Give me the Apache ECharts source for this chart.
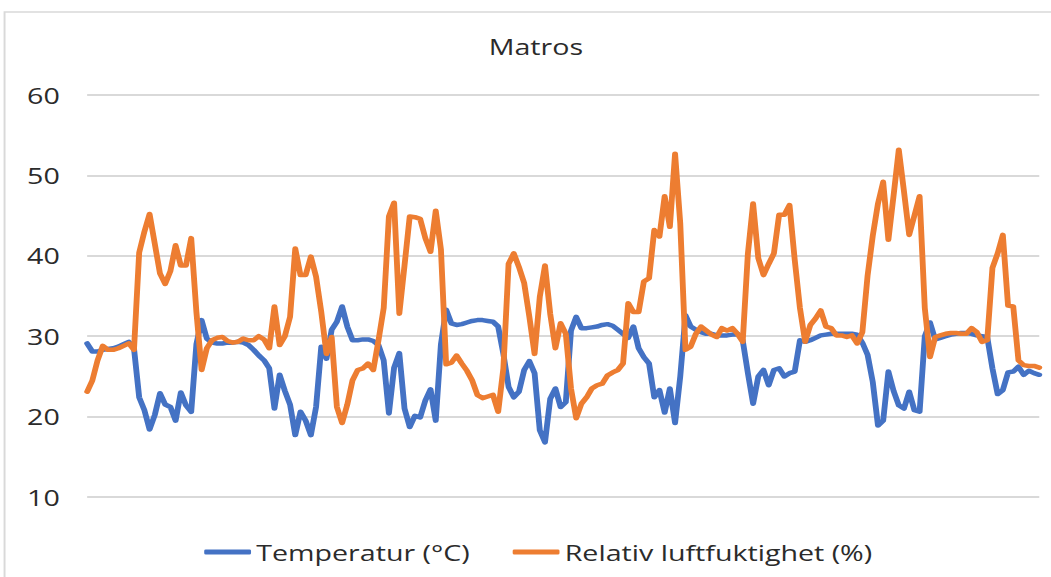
<!DOCTYPE html>
<html>
<head>
<meta charset="utf-8">
<title>Matros</title>
<script src="https://cdn.jsdelivr.net/npm/echarts@6/dist/echarts.min.js"></script>
<style>
  html, body { margin: 0; padding: 0; background: #ffffff; overflow: hidden; }
  /* the chart is laid out narrow and widened horizontally, giving the wide lettering */
  #chart {
    position: absolute; left: 0; top: 0;
    width: 808px; height: 577px;
    transform: scaleX(1.3007);
    transform-origin: 0 0;
  }
</style>
</head>
<body>
<div id="chart"></div>
<script>
const chartTitle = 'Matros';
const seriesNames = ['Temperatur (°C)', 'Relativ luftfuktighet (%)'];

// Temperatur (°C), one value per measurement
const temperatur = [
  29.1, 28.1, 28.1, 28.3, 28.4, 28.5, 28.7, 29.0, 29.3, 28.5,
  22.4, 20.8, 18.4, 20.2, 22.9, 21.5, 21.2, 19.5, 23.0, 21.4,
  20.6, 29.0, 32.0, 29.7, 29.2, 29.1, 29.1, 29.2, 29.2, 29.3,
  29.2, 28.9, 28.3, 27.6, 27.0, 26.0, 21.0, 25.2, 23.2, 21.5,
  17.7, 20.6, 19.5, 17.7, 21.2, 28.7, 27.2, 30.8, 31.8, 33.7,
  31.2, 29.5, 29.5, 29.6, 29.6, 29.4, 28.9, 27.0, 20.4, 26.1,
  27.9, 21.0, 18.7, 20.1, 19.9, 22.0, 23.4, 19.5, 29.0, 33.3,
  31.6, 31.4, 31.5, 31.7, 31.9, 32.0, 32.0, 31.9, 31.8, 31.2,
  27.8, 23.7, 22.4, 23.1, 25.8, 26.9, 25.4, 18.3, 16.8, 22.2,
  23.5, 21.2, 21.8, 30.7, 32.4, 31.0, 31.0, 31.1, 31.2, 31.4,
  31.5, 31.3, 30.8, 30.3, 29.8, 31.2, 28.5, 27.4, 26.6, 22.4,
  23.3, 20.5, 23.5, 19.2, 25.0, 32.6, 31.2, 30.8, 30.5, 30.3,
  30.3, 30.1, 30.1, 30.1, 30.2, 30.3, 29.5, 25.4, 21.6, 25.0,
  25.8, 23.9, 25.8, 26.0, 25.0, 25.4, 25.6, 29.5, 29.3, 29.5,
  29.8, 30.1, 30.2, 30.3, 30.3, 30.3, 30.3, 30.3, 30.2, 29.2,
  27.7, 24.3, 18.9, 19.5, 25.6, 23.2, 21.4, 21.0, 23.1, 20.8,
  20.6, 30.0, 31.7, 29.6, 29.8, 30.0, 30.2, 30.3, 30.4, 30.4,
  30.3, 30.1, 30.0, 29.9, 26.0, 22.8, 23.3, 25.5, 25.6, 26.2,
  25.2, 25.7, 25.4, 25.2
];

// Relativ luftfuktighet (%), one value per measurement
const luftfuktighet = [
  23.1, 24.5, 27.0, 28.8, 28.3, 28.3, 28.5, 28.8, 29.1, 28.3,
  40.4, 43.0, 45.2, 41.5, 37.8, 36.5, 38.1, 41.3, 38.8, 38.8,
  42.2, 33.0, 25.8, 28.5, 29.5, 29.8, 29.9, 29.4, 29.2, 29.3,
  29.7, 29.5, 29.5, 30.0, 29.6, 28.5, 33.7, 28.9, 30.0, 32.4,
  40.9, 37.6, 37.6, 39.9, 37.4, 33.0, 27.8, 29.9, 21.2, 19.2,
  21.5, 24.5, 25.8, 26.0, 26.6, 25.8, 29.5, 33.5, 44.9, 46.6,
  32.8, 38.8, 44.9, 44.8, 44.6, 42.2, 40.5, 45.6, 40.8, 26.5,
  26.7, 27.6, 26.6, 25.7, 24.5, 22.7, 22.3, 22.5, 22.7, 20.6,
  26.0, 39.0, 40.3, 38.6, 36.6, 32.4, 27.8, 34.9, 38.8, 32.8,
  28.5, 31.6, 30.3, 23.5, 19.8, 21.6, 22.4, 23.5, 23.9, 24.1,
  25.1, 25.5, 25.8, 26.6, 34.1, 33.0, 33.0, 36.8, 37.2, 43.2,
  42.4, 47.4, 43.6, 52.7, 44.0, 28.3, 28.7, 30.3, 31.2, 30.7,
  30.2, 29.9, 31.0, 30.7, 31.0, 30.3, 29.3, 40.3, 46.5, 39.7,
  37.6, 39.0, 40.3, 45.1, 45.1, 46.3, 39.5, 33.5, 29.3, 31.4,
  32.2, 33.2, 31.2, 31.0, 30.1, 30.1, 29.9, 30.1, 29.1, 30.5,
  37.5, 42.5, 46.5, 49.2, 42.0, 47.5, 53.2, 48.0, 42.6, 45.0,
  47.4, 33.5, 27.4, 29.9, 30.1, 30.3, 30.4, 30.4, 30.3, 30.3,
  31.0, 30.5, 29.3, 29.5, 38.5, 40.3, 42.6, 33.8, 33.7, 27.0,
  26.4, 26.3, 26.3, 26.1
];

// measurement numbers along the (unlabelled) horizontal axis
const maalinger = temperatur.map((_, i) => String(i + 1));

// value axis ticks
const yMin = 10;
const yMax = 60;
const yStep = 10;

const textColor = '#2b2b2b';
const fontFamily = '"Open Sans", "Noto Sans", sans-serif';
const fontSize = 22;

const chart = echarts.init(document.getElementById('chart'), null, {
  renderer: 'svg', width: 808, height: 577
});

chart.setOption({
  animation: false,
  backgroundColor: '#ffffff',
  color: ['#4472c4', '#ed7d31'],
  textStyle: { fontFamily: fontFamily },
  graphic: [{
    type: 'rect',
    silent: true,
    shape: { x: 3.5, y: 12, width: 900, height: 700 },
    style: { fill: 'none', stroke: '#d9d9d9', lineWidth: 1.5 }
  }],
  title: {
    text: chartTitle,
    left: 407,
    top: 30,
    textAlign: 'center',
    textStyle: { fontSize: fontSize, fontWeight: 'normal', color: textColor, fontFamily: fontFamily }
  },
  legend: {
    data: seriesNames,
    left: 152,
    top: 536,
    icon: 'roundRect',
    itemWidth: 36,
    itemHeight: 5,
    itemGap: 33,
    textStyle: { fontSize: fontSize, color: textColor, fontFamily: fontFamily, padding: [0, 0, 0, -1] }
  },
  grid: { left: 67, right: 9, top: 95, bottom: 80 },
  xAxis: {
    type: 'category',
    data: maalinger,
    boundaryGap: false,
    show: false
  },
  yAxis: {
    type: 'value',
    min: yMin,
    max: yMax,
    interval: yStep,
    axisLine: { show: false },
    axisTick: { show: false },
    axisLabel: { fontSize: fontSize, color: textColor, margin: 21, fontFamily: fontFamily },
    splitLine: { lineStyle: { color: '#d9d9d9', width: 2 } }
  },
  series: [
    {
      name: seriesNames[0],
      type: 'line',
      data: temperatur,
      showSymbol: false,
      lineStyle: { width: 4.5, cap: 'round', join: 'round' }
    },
    {
      name: seriesNames[1],
      type: 'line',
      data: luftfuktighet,
      showSymbol: false,
      lineStyle: { width: 4.5, cap: 'round', join: 'round' }
    }
  ]
});
</script>
</body>
</html>
